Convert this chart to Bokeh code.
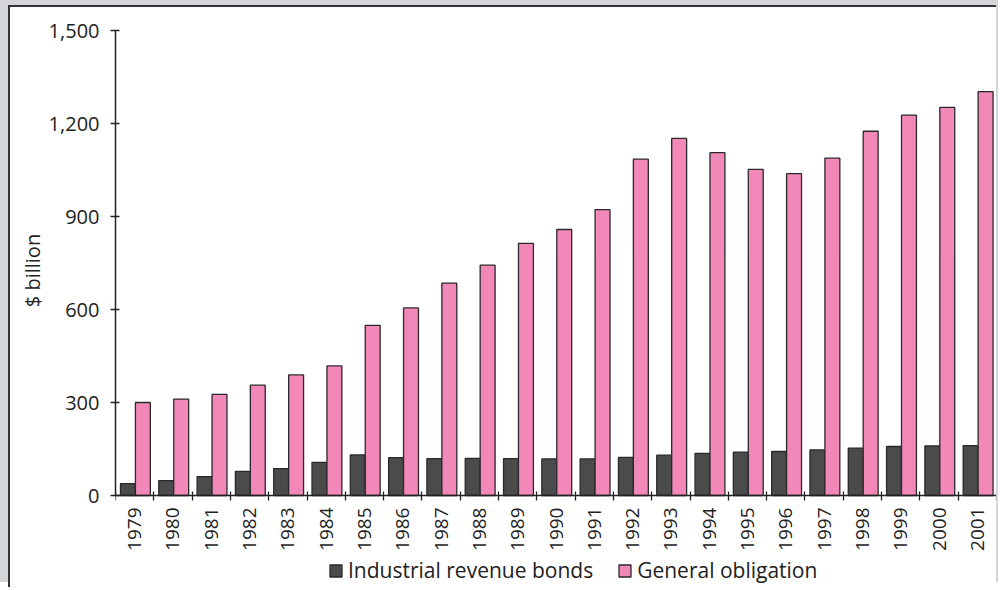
from bokeh.plotting import figure
from bokeh.models import (Range1d, FixedTicker, NumeralTickFormatter, ColumnDataSource,
                          Legend, LegendItem)
from bokeh.transform import dodge
from bokeh.embed import file_html
from bokeh.resources import INLINE
import math

YEARS = ["1979", "1980", "1981", "1982", "1983", "1984", "1985", "1986", "1987",
         "1988", "1989", "1990", "1991", "1992", "1993", "1994", "1995", "1996",
         "1997", "1998", "1999", "2000", "2001"]
INDUSTRIAL = [38, 48, 61, 78, 87, 107, 131, 122, 119, 120, 119, 118, 118, 123,
              130, 136, 140, 142, 147, 153, 158, 160, 161]
GENERAL = [300, 311, 326, 356, 389, 418, 549, 605, 685, 743, 813, 858, 922, 1085,
           1152, 1106, 1052, 1038, 1088, 1175, 1227, 1252, 1303]
Y_TICKS = [0, 300, 600, 900, 1200, 1500]
SERIES_NAMES = ["Industrial revenue bonds", "General obligation"]
Y_LABEL = "$ billion"

FONT = "Open Sans"
DARK = "#222222"

idx = list(range(len(YEARS)))
source = ColumnDataSource(dict(x=idx, ind=INDUSTRIAL, gen=GENERAL, year=YEARS))

# the frame extends below zero to leave room for the rotated year labels and legend
p = figure(width=988, height=582, output_backend="svg", toolbar_location=None,
           x_range=Range1d(-0.5, len(YEARS) - 0.5), y_range=Range1d(-300, 1500),
           min_border_left=105, min_border_top=23, min_border_right=2,
           min_border_bottom=1)
p.styles = {"margin-left": "8px", "margin-top": "5px",
            "border-left": "2px solid #333333",
            "border-top": "2px solid #333333",
            "box-shadow": "-8px -5px 0 0 #d4d5d9, 2px -5px 0 0 #d4d5d9"}
p.outline_line_color = None
p.xgrid.visible = False
p.ygrid.visible = False
p.background_fill_color = "white"
p.border_fill_color = "white"

r1 = p.vbar(x=dodge("x", -0.175, range=p.x_range), top="ind", width=0.39, source=source,
            fill_color="#4b4b4b", line_color="#2a2a2a", line_width=1.3)
r2 = p.vbar(x=dodge("x", 0.215, range=p.x_range), top="gen", width=0.39, source=source,
            fill_color="#f288b8", line_color="#2a2a2a", line_width=1.3)

# x axis, pinned at y = 0
xa = p.xaxis[0]
xa.fixed_location = 0
xa.ticker = FixedTicker(ticks=idx, minor_ticks=[i - 0.5 for i in range(len(YEARS) + 1)])
xa.major_label_overrides = {i: y for i, y in zip(idx, YEARS)}
xa.major_label_orientation = math.pi / 2
xa.major_tick_line_color = None
xa.minor_tick_in = 4
xa.minor_tick_out = 5
xa.minor_tick_line_color = DARK
xa.minor_tick_line_width = 1.3
xa.axis_line_color = DARK
xa.axis_line_width = 1.5
xa.major_label_text_font = FONT
xa.major_label_text_font_size = "19px"
xa.major_label_text_color = DARK
xa.major_label_standoff = 6

# y axis
ya = p.yaxis[0]
ya.bounds = (0, 1500)
ya.ticker = FixedTicker(ticks=Y_TICKS)
ya.formatter = NumeralTickFormatter(format="0,0")
ya.major_tick_in = 4
ya.major_tick_out = 5
ya.major_tick_line_color = DARK
ya.major_tick_line_width = 1.3
ya.minor_tick_line_color = None
ya.axis_line_color = DARK
ya.axis_line_width = 1.5
ya.major_label_text_font = FONT
ya.major_label_text_font_size = "20px"
ya.major_label_text_color = DARK
ya.major_label_standoff = 11
# leading no-break spaces lift the label to the centre of the 0-1,500 span
ya.axis_label = "\u00a0" * 15 + Y_LABEL
ya.axis_label_text_font = FONT
ya.axis_label_text_font_size = "20px"
ya.axis_label_text_font_style = "normal"
ya.axis_label_text_color = DARK
ya.axis_label_standoff = 0

legend = Legend(items=[LegendItem(label=SERIES_NAMES[0], renderers=[r1]),
                       LegendItem(label=SERIES_NAMES[1], renderers=[r2])],
                orientation="horizontal", location=(213, 4))
legend.border_line_color = None
legend.background_fill_alpha = 0
legend.padding = 0
legend.margin = 0
legend.glyph_width = 15
legend.glyph_height = 15
legend.label_standoff = 5
legend.spacing = 24
legend.label_text_font = FONT
legend.label_text_font_size = "21px"
legend.label_text_color = DARK
p.add_layout(legend)

open("out.html", "w").write(file_html(p, INLINE))
